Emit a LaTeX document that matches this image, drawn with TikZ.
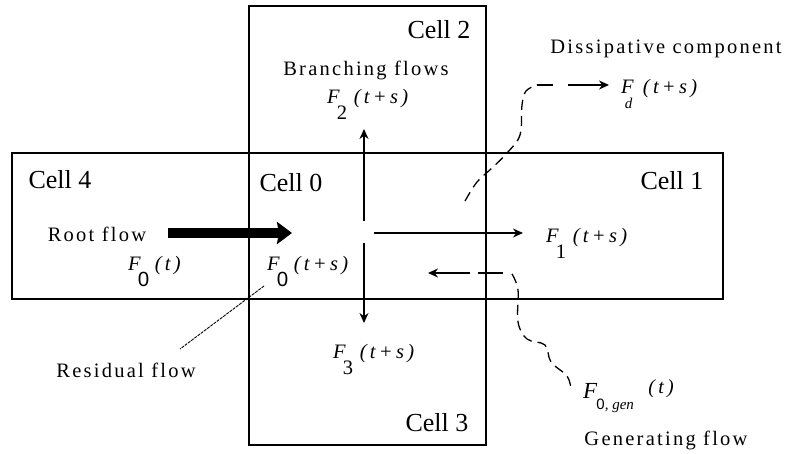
\documentclass[tikz,border=0pt]{standalone}
\usepackage{fontspec}
\setmainfont{Liberation Serif}
\newfontfamily\lsp[LetterSpace=11]{Liberation Serif}
\newfontfamily\lspi[LetterSpace=16]{Liberation Serif}
\newfontfamily\zsans{Liberation Sans}
\usetikzlibrary{arrows.meta}
\newcommand\Flab[2]{\textit{F}\kern-3pt\rlap{\raisebox{-16pt}{#1}}\kern17pt{\lspi\itshape #2}}
\tikzset{
  cellbox/.style={draw, line width=1.6pt},
  celltxt/.style={font=\fontsize{26}{30}\selectfont, inner sep=0pt},
  lbl/.style={font=\lsp\fontsize{20.5}{24}\selectfont, inner sep=0pt},
  flab/.style={font=\fontsize{20.5}{24}\selectfont, inner sep=0pt, anchor=base west},
  flow/.style={line width=1.4pt, -{Stealth[length=10pt,width=9pt]}},
  dflow/.style={line width=1.3pt, dash pattern=on 10pt off 6pt},
}
\begin{document}
\begin{tikzpicture}[x=1pt,y=-1pt]
\useasboundingbox (0,0) rectangle (791,454);
% cells
\draw[cellbox] (249,6) rectangle (486,445);
\draw[cellbox] (12,153) rectangle (723,299);
% cell labels
\node[celltxt] (cell2) at (439,30) {Cell 2};
\node[celltxt] (cell4) at (60,180) {Cell 4};
\node[celltxt] (cell0) at (291,183) {Cell 0};
\node[celltxt] (cell1) at (672,181) {Cell 1};
\node[celltxt] (cell3) at (437,423) {Cell 3};
% text labels
\node[lbl] (branch) at (366,70) {Branching flows};
\node[lbl] (diss) at (666,49) {Dissipative component};
\node[lbl] (root) at (97,234) {Root flow};
\node[lbl] (resid) at (126,370) {Residual flow};
\node[lbl] (gen) at (666,440) {Generating flow};
% flow labels
\node[flab] (F2) at (327,104) {\Flab{2}{(t+s)}};
\node[flab] (Fd) at (621,94) {\textit{F}\kern-9pt\rlap{\raisebox{-15pt}{\fontsize{15}{18}\selectfont\itshape d}}\kern18pt{\lspi\itshape (t+s)}};
\node[flab] (F0t) at (128,270) {\Flab{\zsans 0}{(t)}};
\node[flab] (F0ts) at (267,270) {\Flab{\zsans 0}{(t+s)}};
\node[flab] (F1) at (546,242) {\Flab{1}{(t+s)}};
\node[flab] (F3) at (333,358) {\Flab{3}{(t+s)}};
\node[inner sep=0pt, anchor=base west] (Fgen) at (583,398)
  {\fontsize{23}{26}\selectfont\textit{F}\kern-1pt\rlap{\raisebox{-11pt}{\fontsize{15}{18}\selectfont\zsans 0\rmfamily\itshape\fontsize{15}{17}\selectfont, gen}}\kern52pt\raisebox{5pt}{\fontsize{20}{24}\selectfont\lspi\itshape(t)}};
% coordinates
\coordinate (c0u) at (364,221); \coordinate (c2) at (364,129);
\coordinate (c0d) at (364,243); \coordinate (c3) at (364,323);
\coordinate (c0r) at (374,233); \coordinate (c1) at (523,233);
\coordinate (r0) at (168,233); \coordinate (r1) at (292,233);
\coordinate (g0) at (503,273); \coordinate (g1) at (428,273);
\coordinate (d0) at (537,85); \coordinate (d1) at (609,85);
\coordinate (res0) at (264,286); \coordinate (res1) at (180,349);
% branching flows
\draw[flow] (c0u) -- (c2);
\draw[flow] (c0d) -- (c3);
\draw[flow] (c0r) -- (c1);
% root flow
\draw[line width=10pt, -{Stealth[length=15pt,width=22pt,inset=2pt]}] (r0) -- (r1);
% residual
\draw[line width=0.9pt, dash pattern=on 3pt off 1pt] (res0) -- (res1);
% generating flow
\draw[line width=1.4pt, dash pattern=on 25pt off 8pt on 80pt, -{Stealth[length=10pt,width=9pt]}] (g0) -- (g1);
\draw[dflow] plot[smooth, tension=0.6] coordinates {(512,274) (518,290) (518,322) (527,339) (545,345) (551,362) (567,376) (571,389)};
% dissipative
\draw[dflow] plot[smooth, tension=0.6] coordinates {(465,201) (477,182) (492,168) (507,153) (520,135) (522,105) (526,91) (537,85)};
\draw[line width=1.4pt, dash pattern=on 16pt off 15pt on 80pt, -{Stealth[length=10pt,width=9pt]}] (d0) -- (d1);
\end{tikzpicture}
\end{document}
